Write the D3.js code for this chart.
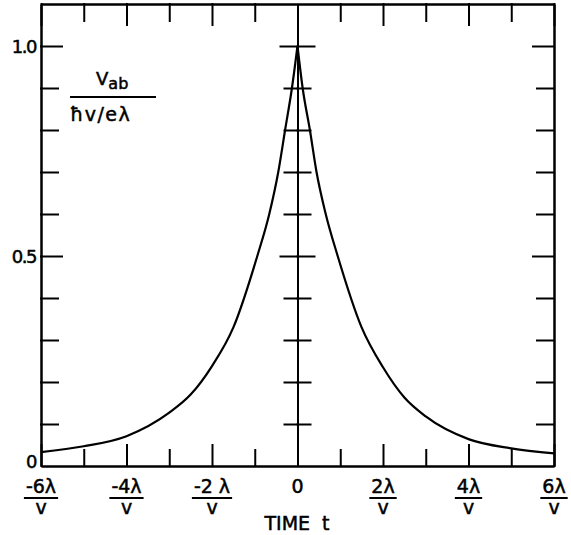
<html>
<head>
<script src="https://cdnjs.cloudflare.com/ajax/libs/d3/7.8.5/d3.min.js"></script>
<style>
body { margin: 0; background: white; }
#canvas { background-color: white; }
text { font-family: "DejaVu Sans", sans-serif; fill: black; stroke: black; stroke-width: 0.5px; }
.axis path, .axis line { stroke: black; stroke-width: 2; }
</style>
</head>
<body>
<svg id="canvas" width="571" height="535"></svg>
<script>
// curve, left and right halves meet at the cusp t = 0
var tLeft  = [-6, -5, -4, -3, -2.5, -2, -1.5, -0.94, -0.66, -0.45, -0.29, -0.13, 0];
var vLeft  = [0.033, 0.047, 0.071, 0.127, 0.17, 0.238, 0.33, 0.5, 0.6, 0.7, 0.8, 0.9, 1.0];
var tRight = [0, 0.12, 0.29, 0.445, 0.66, 0.94, 1.5, 2, 2.5, 3, 4, 5, 6];
var vRight = [1.0, 0.9, 0.8, 0.7, 0.6, 0.5, 0.33, 0.235, 0.163, 0.118, 0.064, 0.042, 0.030];

var xMajor = [-6, -4, -2, 0, 2, 4, 6];
var xMinor = [-5, -3, -1, 1, 3, 5];
var xNumer = ["-6\u03bb", "-4\u03bb", "-2\u00a0\u03bb", "0", "2\u03bb", "4\u03bb", "6\u03bb"];
var yMajor = [0.5, 1.0];
var yMinor = [0.1, 0.2, 0.3, 0.4, 0.6, 0.7, 0.8, 0.9];
var yLabels = ["0", "0.5", "1.0"];
var yLabelVals = [0, 0.5, 1.0];

var svg = d3.select("#canvas");
var x = d3.scaleLinear().domain([-6, 6]).range([41, 554]);
var y = d3.scaleLinear().domain([0, 1.1]).range([466, 4]);
var top_ = y(1.1), bot = y(0);

function ax(gen, tx, ty) {
    var g = svg.append("g").attr("class", "axis")
        .attr("transform", "translate(" + tx + "," + ty + ")")
        .call(gen);
    g.selectAll("text").remove();
    g.selectAll("line").attr("stroke-linecap", "square");
    return g;
}

// frame: bottom and top with inward ticks
ax(d3.axisBottom(x).tickValues(xMajor.filter(d => d != 0)).tickSize(-21).tickSizeOuter(0), 0, bot);
ax(d3.axisBottom(x).tickValues(xMinor).tickSize(-16).tickSizeOuter(0), 0, bot);
ax(d3.axisTop(x).tickValues(xMajor.filter(d => d != 0)).tickSize(-21).tickSizeOuter(0), 0, top_);
ax(d3.axisTop(x).tickValues(xMinor).tickSize(-17).tickSizeOuter(0), 0, top_);
// left / right
ax(d3.axisLeft(y).tickValues(yMajor).tickSize(-21).tickSizeOuter(0), x(-6), 0);
ax(d3.axisLeft(y).tickValues(yMinor).tickSize(-17).tickSizeOuter(0), x(-6), 0);
ax(d3.axisRight(y).tickValues(yMajor).tickSize(-21).tickSizeOuter(0), x(6), 0);
ax(d3.axisRight(y).tickValues(yMinor).tickSize(-17).tickSizeOuter(0), x(6), 0);
// center line at t = 0 with cross ticks
ax(d3.axisLeft(y).tickValues(yMajor).tickSize(17).tickSizeOuter(0), x(0), 0);
ax(d3.axisLeft(y).tickValues(yMinor).tickSize(13).tickSizeOuter(0), x(0), 0);
ax(d3.axisRight(y).tickValues(yMajor).tickSize(17).tickSizeOuter(0), x(0), 0);
ax(d3.axisRight(y).tickValues(yMinor).tickSize(13).tickSizeOuter(0), x(0), 0);

// curve
var line = d3.line().x(d => x(d[0])).y(d => y(d[1])).curve(d3.curveMonotoneX);
[d3.zip(tLeft, vLeft), d3.zip(tRight, vRight)].forEach(function (pts) {
    svg.append("path").datum(pts)
        .attr("d", line)
        .attr("fill", "none")
        .attr("stroke", "black")
        .attr("stroke-width", 2.2);
});

// y tick labels (the 0 sits a little above the axis line)
yLabels.forEach(function (s, i) {
    svg.append("text")
        .attr("x", 36).attr("y", y(yLabelVals[i]) + (yLabelVals[i] == 0 ? 2 : 7))
        .attr("text-anchor", "end")
        .style("font-size", "18px")
        .style("letter-spacing", "-1.5px")
        .text(s);
});

// x tick labels as fractions  (n lambda / v)
xMajor.forEach(function (t, i) {
    var cx = x(t);
    var txt = svg.append("text")
        .attr("x", cx).attr("y", 493)
        .attr("text-anchor", "middle")
        .style("font-size", "19px")
        .text(xNumer[i]);
    if (t == 0) return;
    var w = txt.node().getComputedTextLength();
    svg.append("line")
        .attr("x1", cx - w / 2 - 2).attr("x2", cx + w / 2 + 2)
        .attr("y1", 498).attr("y2", 498)
        .attr("stroke", "black").attr("stroke-width", 2);
    svg.append("text")
        .attr("x", cx).attr("y", 514)
        .attr("text-anchor", "middle")
        .style("font-size", "19px")
        .text("v");
});

svg.append("text")
    .attr("x", 297).attr("y", 530)
    .attr("text-anchor", "middle")
    .style("font-size", "19px")
    .text("TIME\u00a0\u00a0t");

// y quantity label
var vt = svg.append("text").attr("x", 96).attr("y", 85).style("font-size", "18px");
vt.append("tspan").text("V");
vt.append("tspan").attr("dy", 4).style("font-size", "16px").text("ab");
svg.append("line")
    .attr("x1", 70).attr("x2", 156).attr("y1", 97).attr("y2", 97)
    .attr("stroke", "black").attr("stroke-width", 2);
svg.append("text").attr("x", 70).attr("y", 121)
    .style("font-size", "19px")
    .style("letter-spacing", "1.5px")
    .text("\u0127v/e\u03bb");
</script>
</body>
</html>
